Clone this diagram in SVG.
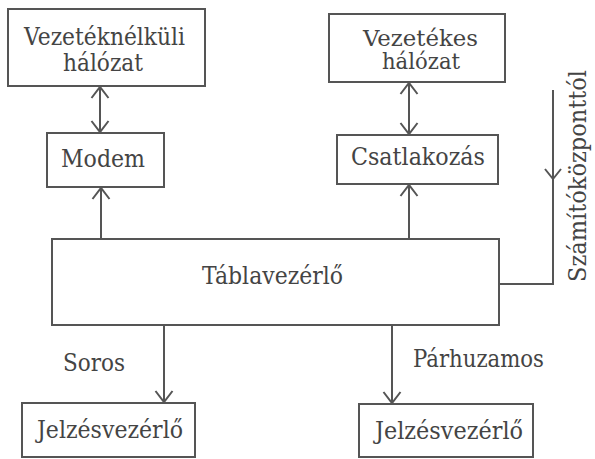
<svg xmlns="http://www.w3.org/2000/svg" width="595" height="459" viewBox="0 0 595 459">
  <defs>
    <style>
      .box { fill: #ffffff; stroke: #555555; stroke-width: 2; }
      .wire { fill: none; stroke: #555555; stroke-width: 2; }
      .lbl { font-family: "DejaVu Serif", "Liberation Serif", serif; font-size: 24px; fill: #444444; text-anchor: middle; }
      .sm { font-size: 22px; }
    </style>
    <marker id="head" viewBox="0 0 20 20" refX="16" refY="10" markerWidth="20" markerHeight="20" markerUnits="userSpaceOnUse" orient="auto-start-reverse">
      <path d="M5,1.5 L16,10 L5,18.5" fill="none" stroke="#555555" stroke-width="2"/>
    </marker>
  </defs>
  <rect width="595" height="459" fill="#ffffff"/>

  <g id="connectors">
    <line class="wire" x1="100" y1="87" x2="100" y2="132" marker-start="url(#head)" marker-end="url(#head)"/>
    <line class="wire" x1="409" y1="83" x2="409" y2="134" marker-start="url(#head)" marker-end="url(#head)"/>
    <line class="wire" x1="101" y1="239" x2="101" y2="188" marker-end="url(#head)"/>
    <line class="wire" x1="409" y1="239" x2="409" y2="185" marker-end="url(#head)"/>
    <line class="wire" x1="164" y1="325" x2="164" y2="402" marker-end="url(#head)"/>
    <line class="wire" x1="392" y1="325" x2="392" y2="403" marker-end="url(#head)"/>
    <path class="wire" d="M553,90 V284 H499"/>
    <path class="wire" d="M545,169 L553,179 L561,169"/>
    <text class="lbl" x="94" y="371" textLength="62" lengthAdjust="spacingAndGlyphs">Soros</text>
    <text class="lbl" x="478.5" y="367" textLength="131" lengthAdjust="spacingAndGlyphs">Párhuzamos</text>
    <text class="lbl" transform="translate(586,176) rotate(-90)" x="0" y="0" textLength="212" lengthAdjust="spacingAndGlyphs">Számítóközponttól</text>
  </g>

  <g id="vezeteknelkuli">
    <rect class="box" x="8" y="9" width="197" height="77"/>
    <text class="lbl" x="104.5" y="45" textLength="161" lengthAdjust="spacingAndGlyphs">Vezetéknélküli</text>
    <text class="lbl" x="103" y="71" textLength="80" lengthAdjust="spacingAndGlyphs">hálózat</text>
  </g>

  <g id="vezetekes">
    <rect class="box" x="329" y="14" width="176" height="68"/>
    <text class="lbl sm" x="420.5" y="46" textLength="115" lengthAdjust="spacingAndGlyphs">Vezetékes</text>
    <text class="lbl sm" x="421" y="69" textLength="78" lengthAdjust="spacingAndGlyphs">hálózat</text>
  </g>

  <g id="modem">
    <rect class="box" x="47" y="133" width="117" height="54"/>
    <text class="lbl" x="103" y="167" textLength="84" lengthAdjust="spacingAndGlyphs">Modem</text>
  </g>

  <g id="csatlakozas">
    <rect class="box" x="337" y="135" width="161" height="49"/>
    <text class="lbl" x="418" y="165" textLength="134" lengthAdjust="spacingAndGlyphs">Csatlakozás</text>
  </g>

  <g id="tablavezerlo">
    <rect class="box" x="52" y="239" width="447" height="86"/>
    <text class="lbl" x="272.5" y="284" textLength="141" lengthAdjust="spacingAndGlyphs">Táblavezérlő</text>
  </g>

  <g id="jelzes-soros">
    <rect class="box" x="22" y="403" width="173" height="54"/>
    <text class="lbl" x="110" y="438" textLength="146" lengthAdjust="spacingAndGlyphs">Jelzésvezérlő</text>
  </g>

  <g id="jelzes-parhuzamos">
    <rect class="box" x="359" y="404" width="174" height="53"/>
    <text class="lbl" x="449" y="439" textLength="148" lengthAdjust="spacingAndGlyphs">Jelzésvezérlő</text>
  </g>
</svg>
